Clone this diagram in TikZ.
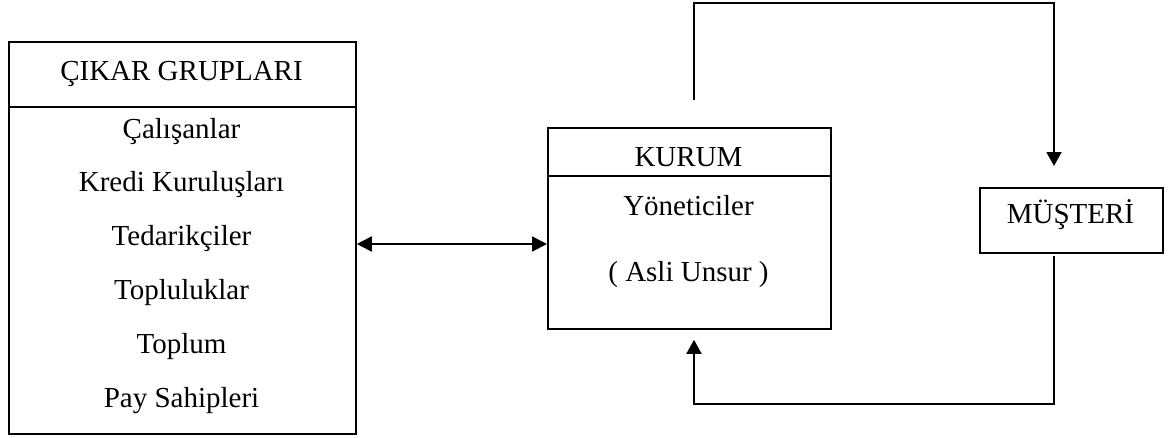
\documentclass[tikz,border=0pt]{standalone}
\usepackage{fontspec}
\setmainfont{Liberation Serif}
\usetikzlibrary{arrows.meta,calc}
\begin{document}
\begin{tikzpicture}[x=1pt,y=-1pt,
  box/.style={draw, line width=1.8pt, inner sep=0pt, anchor=north west},
  rule/.style={line width=1.8pt},
  lbl/.style={anchor=base, inner sep=0pt, font=\fontsize{29}{34}\selectfont},
  conn/.style={line width=1.8pt, -{Triangle[width=15pt,length=14pt]}},
  dconn/.style={line width=1.8pt, {Triangle[width=15pt,length=15pt]}-{Triangle[width=15pt,length=15pt]}}]
\useasboundingbox (0,0) rectangle (1170,437);

% interest groups box
\node[box, minimum width=347pt, minimum height=392pt] (cg) at (8,41) {};
\draw[rule] ($(cg.north west)+(0,66)$) -- ($(cg.north east)+(0,66)$);
\node[lbl] (cgh) at (181.5,80) {ÇIKAR GRUPLARI};
\node[lbl] (cg1) at (181.5,138) {Çalışanlar};
\node[lbl] (cg2) at (181.5,191.8) {Kredi Kuruluşları};
\node[lbl] (cg3) at (181.5,245.6) {Tedarikçiler};
\node[lbl] (cg4) at (181.5,299.4) {Topluluklar};
\node[lbl] (cg5) at (181.5,353.2) {Toplum};
\node[lbl] (cg6) at (181.5,407) {Pay Sahipleri};

% organisation box
\node[box, minimum width=283pt, minimum height=201pt] (kur) at (547,127) {};
\draw[rule] ($(kur.north west)+(0,49)$) -- ($(kur.north east)+(0,49)$);
\node[lbl] (kurh) at (688.5,166.7) {KURUM};
\node[lbl] (kur1) at (688.5,215) {Yöneticiler};
\node[lbl] (kur2) at (688.5,281.7) {( Asli Unsur )};

% customer box
\node[box, minimum width=183pt, minimum height=65pt] (mus) at (979,187) {};
\node[lbl] (mush) at (1070.5,223) {MÜŞTERİ};

% connectors
\coordinate (mid) at (450,244);
\draw[dconn] (mid -| cg.east) -- (mid -| kur.west);

\coordinate (up) at (694,100);
\coordinate (tr) at (1054,3);
\draw[conn] (up) |- (tr) -- ($(tr |- mus.north)+(0,-21)$);

\coordinate (dn) at (1054,256);
\coordinate (bl) at (694,404);
\draw[conn] (dn) |- (bl) -- ($(bl |- kur.south)+(0,10)$);
\end{tikzpicture}
\end{document}
